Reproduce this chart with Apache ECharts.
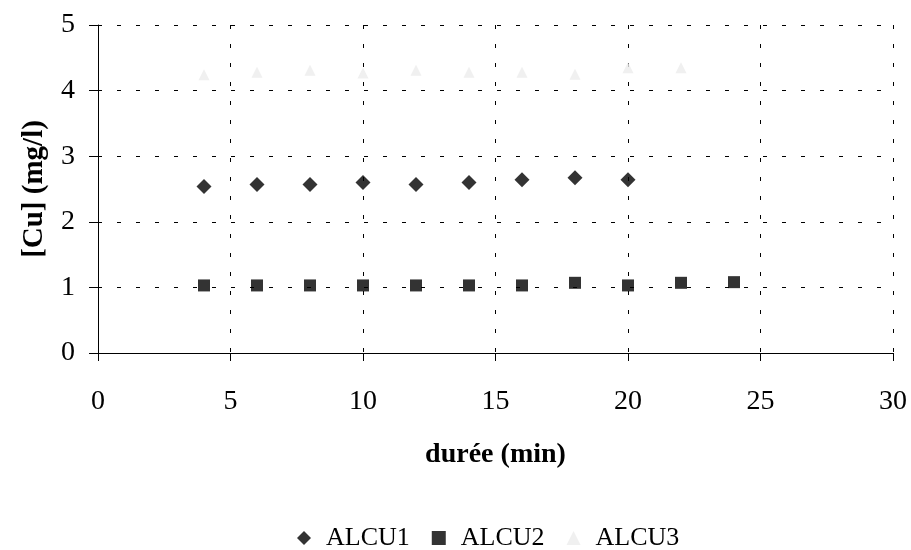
<!DOCTYPE html>
<html>
<head>
<meta charset="utf-8">
<script src="https://cdn.jsdelivr.net/npm/echarts@6/dist/echarts.min.js"></script>
<style>html,body{margin:0;padding:0;background:#fff}#c{width:911px;height:550px}</style>
</head>
<body>
<div id="c"></div>
<script>
const xTicks = [0, 5, 10, 15, 20, 25, 30];
const yTicks = [0, 1, 2, 3, 4, 5];
const alcu1X = [4, 6, 8, 10, 12, 14, 16, 18, 20];
const alcu1Y = [2.54, 2.57, 2.57, 2.60, 2.57, 2.60, 2.64, 2.67, 2.64];
const alcu2X = [4, 6, 8, 10, 12, 14, 16, 18, 20, 22, 24];
const alcu2Y = [1.03, 1.03, 1.03, 1.03, 1.03, 1.03, 1.03, 1.07, 1.03, 1.07, 1.08];
const alcu3X = [4, 6, 8, 10, 12, 14, 16, 18, 20, 22];
const alcu3Y = [4.24, 4.28, 4.31, 4.27, 4.31, 4.28, 4.28, 4.25, 4.35, 4.35];
const seriesNames = ['ALCU1', 'ALCU2', 'ALCU3'];

const pair = (xs, ys) => xs.map((x, i) => [x, ys[i]]);
const font = 'Liberation Serif, Times New Roman, serif';

const chart = echarts.init(document.getElementById('c'), null, {renderer: 'canvas'});
chart.setOption({
  animation: false,
  backgroundColor: '#fff',
  textStyle: {fontFamily: font, color: '#000'},
  grid: {left: 98, top: 25, width: 795, height: 328, containLabel: false},
  legend: {
    top: 520, left: 292,
    itemWidth: 14, itemHeight: 14, itemGap: 22,
    textStyle: {fontFamily: font, fontSize: 26, color: '#000', padding: [0, 0, 0, 10]},
    data: seriesNames
  },
  xAxis: {
    type: 'value', min: 0, max: 30, interval: 5,
    name: 'durée (min)', nameLocation: 'middle', nameGap: 88,
    nameTextStyle: {fontFamily: font, fontSize: 28, fontWeight: 'bold', color: '#000'},
    axisLine: {show: true, lineStyle: {color: '#000', width: 1}},
    axisTick: {show: true, inside: false, length: 8, lineStyle: {color: '#000'}},
    axisLabel: {fontFamily: font, fontSize: 28, color: '#000', margin: 35},
    splitLine: {show: true, lineStyle: {color: '#000', type: [4, 15], width: 1}}
  },
  yAxis: {
    type: 'value', min: 0, max: 5, interval: 1,
    name: '[Cu] (mg/l)', nameLocation: 'middle', nameGap: 49, nameRotate: 90,
    nameTextStyle: {fontFamily: font, fontSize: 29, fontWeight: 'bold', color: '#000'},
    axisLine: {show: true, lineStyle: {color: '#000', width: 1}},
    axisTick: {show: true, inside: false, length: 9, lineStyle: {color: '#000'}},
    axisLabel: {fontFamily: font, fontSize: 28, color: '#000', margin: 23},
    splitLine: {show: true, lineStyle: {color: '#000', type: [4, 15], width: 1}}
  },
  series: [
    {name: seriesNames[0], type: 'scatter', symbol: 'diamond', symbolSize: 15,
     itemStyle: {color: '#000'}, data: pair(alcu1X, alcu1Y)},
    {name: seriesNames[1], type: 'scatter', symbol: 'rect', symbolSize: 12,
     itemStyle: {color: '#000'}, data: pair(alcu2X, alcu2Y)},
    {name: seriesNames[2], type: 'scatter', symbol: 'triangle', symbolSize: 11,
     itemStyle: {color: '#ececec'}, data: pair(alcu3X, alcu3Y)}
  ]
});
</script>
</body>
</html>
